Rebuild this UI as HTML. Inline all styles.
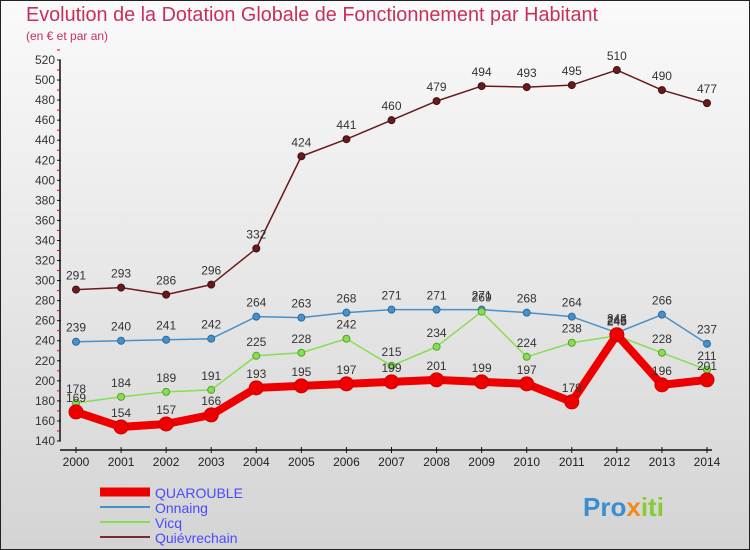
<!DOCTYPE html>
<html><head><meta charset="utf-8"><style>
body{margin:0}
#c{width:750px;height:550px;position:relative;overflow:hidden;font-family:"Liberation Sans",sans-serif}
</style></head><body>
<div id="c">
<svg id="s" width="750" height="550" xmlns="http://www.w3.org/2000/svg">
<defs><linearGradient id="bg" x1="0" y1="0" x2="0" y2="1"><stop offset="0" stop-color="#fafafa"/><stop offset="1" stop-color="#d4d4d4"/></linearGradient></defs>
<rect x="0.5" y="0.5" width="749" height="549" fill="url(#bg)" stroke="#222"/>
<text x="26" y="21" font-size="20" fill="#c8305a" textLength="572" lengthAdjust="spacingAndGlyphs">Evolution de la Dotation Globale de Fonctionnement par Habitant</text>
<text x="26" y="40" font-size="12" fill="#c8305a">(en € et par an)</text>
<g id="axes"></g><g id="series"></g>
<g>
<line x1="100" y1="492" x2="150" y2="492" stroke="#e00" stroke-width="9"/>
<text x="155" y="498" font-size="14" fill="#4a4aff">QUAROUBLE</text>
<line x1="100" y1="507" x2="150" y2="507" stroke="#4a90c8" stroke-width="2"/>
<text x="155" y="513" font-size="14" fill="#4a4aff">Onnaing</text>
<line x1="100" y1="522" x2="150" y2="522" stroke="#88dd55" stroke-width="2"/>
<text x="155" y="528" font-size="14" fill="#4a4aff">Vicq</text>
<line x1="100" y1="537" x2="150" y2="537" stroke="#7a2a2a" stroke-width="2"/>
<text x="155" y="543" font-size="14" fill="#4a4aff">Quiévrechain</text>
</g>
<text x="583" y="516" font-size="26" font-weight="bold" fill="#3a8fd0">Pro<tspan fill="#f08a1a">x</tspan><tspan fill="#88cc33">iti</tspan></text>
</svg>
</div>
<script>
const years=[2000,2001,2002,2003,2004,2005,2006,2007,2008,2009,2010,2011,2012,2013,2014];
const yTicks=[140,160,180,200,220,240,260,280,300,320,340,360,380,400,420,440,460,480,500,520];
const quarouble=[169,154,157,166,193,195,197,199,201,199,197,179,246,196,201];
const onnaing=[239,240,241,242,264,263,268,271,271,271,268,264,248,266,237];
const vicq=[178,184,189,191,225,228,242,215,234,269,224,238,245,228,211];
const quievrechain=[291,293,286,296,332,424,441,460,479,494,493,495,510,490,477];
const NS="http://www.w3.org/2000/svg";
const x=i=>76+i*(707-76)/(years.length-1);
const y=v=>60+(520-v)*(441-60)/380;
function mk(p,t,a){const e=document.createElementNS(NS,t);for(const k in a)e.setAttribute(k,a[k]);p.appendChild(e);return e;}
const ax=document.getElementById('axes');
const ya=mk(ax,'line',{x1:60,y1:y(520),x2:60,y2:y(140),stroke:'#111','stroke-width':1.5});


yTicks.forEach(v=>{
 mk(ax,'line',{x1:57,y1:y(v),x2:61,y2:y(v),stroke:'#111'});
 mk(ax,'line',{x1:57,y1:y(v+10),x2:60,y2:y(v+10),stroke:'#e00'});
 const t=mk(ax,'text',{x:55,y:y(v)+4,'font-size':12,'text-anchor':'end',fill:'#333'});
 t.textContent=v;
 
 
});
const xa=mk(ax,'line',{x1:60,y1:450,x2:712,y2:450,stroke:'#111','stroke-width':1.5});


years.forEach((yr,i)=>{
 mk(ax,'line',{x1:x(i),y1:447,x2:x(i),y2:453,stroke:'#111'});
 const t=mk(ax,'text',{x:x(i),y:466,'font-size':12,'text-anchor':'middle',fill:'#222'});
 t.textContent=yr;
 
 
});
const sg=document.getElementById('series');
function series(name,data,color,w,r,lc){
 const g=mk(sg,'g',{});
 
 
 const l=mk(g,'polyline',{points:data.map((v,i)=>x(i)+','+y(v)).join(' '),fill:'none',stroke:color,'stroke-width':w,'stroke-linejoin':'round'});
 
 
 data.forEach((v,i)=>{
  const c=mk(g,'circle',{cx:x(i),cy:y(v),r:r,fill:color,stroke:lc,'stroke-width':1});
  
  
  const t=mk(g,'text',{x:x(i),y:y(v)-10,'font-size':12,'text-anchor':'middle',fill:'#333'});
  t.textContent=v;
  
  
 });
}
series('quievrechain',quievrechain,'#6a1a1a',1.5,3.5,'#401010');
series('onnaing',onnaing,'#4a90c8',1.5,3.5,'#2a6a9a');
series('vicq',vicq,'#88dd55',1.5,3.5,'#5aa030');
series('quarouble',quarouble,'#ee0000',8,7,'#cc0000');
</script>
</body></html>
